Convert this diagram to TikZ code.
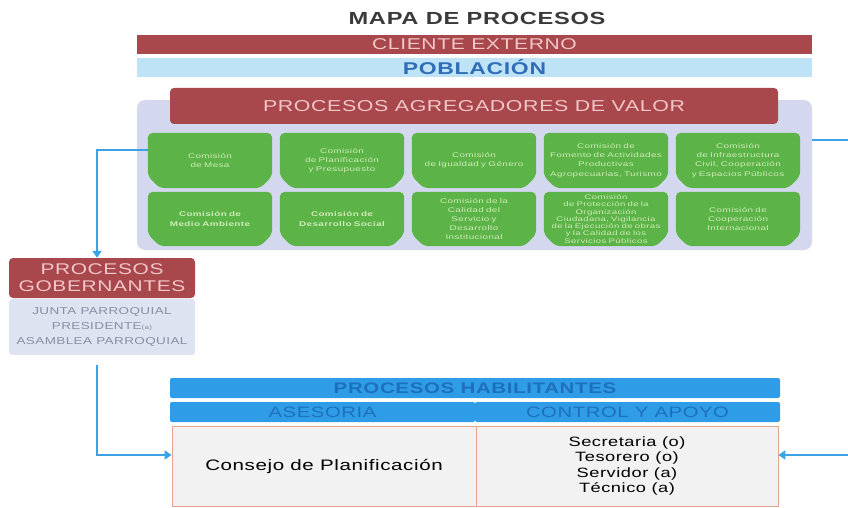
\documentclass[tikz,border=0pt]{standalone}
\usepackage{fontspec}
\setmainfont[FakeStretch=1.35,LetterSpace=4]{Liberation Sans}
\newfontfamily\anchoverde[FakeStretch=1.45,LetterSpace=6]{Liberation Sans}
\usepackage{xcolor}
\usetikzlibrary{arrows.meta, positioning}
\definecolor{rojoproc}{HTML}{A8474C}
\definecolor{rosatexto}{HTML}{F3C6C7}
\definecolor{celeste}{HTML}{BEE3F6}
\definecolor{azulpob}{HTML}{2F6DB8}
\definecolor{lavanda}{HTML}{D4D8EE}
\definecolor{verdecom}{HTML}{5CB347}
\definecolor{verdetexto}{HTML}{CFEDB9}
\definecolor{grisgob}{HTML}{DDE3F0}
\definecolor{textogob}{HTML}{8A8EA2}
\definecolor{azulhab}{HTML}{2E9CE6}
\definecolor{azultexto}{HTML}{1F70BC}
\definecolor{fondotabla}{HTML}{F2F2F2}
\definecolor{bordetabla}{HTML}{E6A493}
\definecolor{flechaazul}{HTML}{3BA2E3}
\definecolor{titulo}{HTML}{3A3A3A}
\pgfdeclarelayer{fondo}
\pgfdeclarelayer{medio}
\pgfsetlayers{fondo,medio,main}

\tikzset{
  franja/.style={minimum width=675pt, minimum height=19pt, inner sep=0pt},
  panel/.style={fill=lavanda, rounded corners=8pt, minimum width=675pt, minimum height=150pt},
  comision/.style={minimum width=124pt, minimum height=55pt, inner sep=1pt, text width=122pt,
    align=center, text=verdetexto, font=\anchoverde\fontsize{6.8}{9.2}\selectfont},
  gobierno/.style={fill=rojoproc, text=rosatexto, rounded corners=4pt, minimum width=186pt,
    minimum height=40pt, inner sep=0pt, align=center, font=\fontsize{15.5}{17}\selectfont},
  gobtexto/.style={fill=grisgob, rounded corners=3pt, minimum width=186pt, minimum height=56pt,
    inner sep=0pt, align=center, text=textogob, font=\fontsize{10}{15}\selectfont},
  habil/.style={fill=azulhab, text=azultexto, rounded corners=2pt, minimum height=20pt, inner sep=0pt,
    font=\fontsize{15}{15}\selectfont},
  celda/.style={fill=fondotabla, draw=bordetabla, line width=0.8pt, minimum width=304pt,
    minimum height=80pt, inner sep=0pt, align=center},
  flecha/.style={draw=flechaazul, line width=1.8pt, -{Triangle[length=7pt,width=9pt]}}
}

\begin{document}
\begin{tikzpicture}[x=1pt, y=-1pt]
\useasboundingbox (0,0) rectangle (848,508);

% cabecera
\node[text=titulo, font=\bfseries\fontsize{17.5}{17.5}\selectfont] (titulo) at (477,18) {MAPA DE PROCESOS};
\node[franja, fill=rojoproc, text=rosatexto, font=\fontsize{15.6}{15.6}\selectfont] (cliente) at (474.5,44.5) {CLIENTE EXTERNO};
\node[franja, fill=celeste, text=azulpob, font=\bfseries\fontsize{17}{17}\selectfont] (poblacion) at (474.5,67.5) {POBLACIÓN};

% procesos agregadores de valor
\begin{pgfonlayer}{fondo}
\node[panel] (panel) at (474.5,175) {};
\end{pgfonlayer}
\node[fill=rojoproc, text=rosatexto, rounded corners=4pt, minimum width=608pt, minimum height=36pt,
  inner sep=0pt, font=\fontsize{15.8}{15.8}\selectfont] (agregadores) at (474,106) {PROCESOS AGREGADORES DE VALOR};

\node[comision] (c1) at (210,160.5) {Comisión\\de Mesa};
\node[comision] (c2) at (342,160.5) {Comisión\\de Planificación\\y Presupuesto};
\node[comision] (c3) at (474,160.5) {Comisión\\de Igualdad y Género};
\node[comision] (c4) at (606,160.5) {Comisión de\\Fomento de Actividades\\Productivas\\Agropecuarias, Turismo};
\node[comision] (c5) at (738,160.5) {Comisión\\de Infraestructura\\Civil, Cooperación\\y Espacios Públicos};
\node[comision, minimum height=54pt] (c6) at (210,219) {\bfseries Comisión de\\Medio Ambiente};
\node[comision, minimum height=54pt] (c7) at (342,219) {\bfseries Comisión de\\Desarrollo Social};
\node[comision, minimum height=54pt, font=\anchoverde\fontsize{6.8}{8.9}\selectfont] (c8) at (474,219) {Comisión de la\\Calidad del\\Servicio y\\Desarrollo\\Institucional};
\node[comision, minimum height=54pt, font=\anchoverde\fontsize{6.6}{7.3}\selectfont] (c9) at (606,219) {Comisión\\de Protección de la\\Organización\\Ciudadana, Vigilancia\\de la Ejecución de obras\\y la Calidad de los\\Servicios Públicos};
\node[comision, minimum height=54pt] (c10) at (738,219) {Comisión de\\Cooperación\\Internacional};

\begin{pgfonlayer}{medio}
\foreach \i in {1,...,10}
  \fill[verdecom, rounded corners=5pt] ([yshift=12pt]c\i.south west) -- (c\i.north west) -- (c\i.north east)
    -- ([yshift=12pt]c\i.south east) -- ([xshift=-12pt]c\i.south east) -- ([xshift=12pt]c\i.south west) -- cycle;
\end{pgfonlayer}

% procesos gobernantes
\node[gobtexto] (gobtxt) at (102,327) {JUNTA PARROQUIAL\\PRESIDENTE{\fontsize{6}{6}\selectfont(a)}\\ASAMBLEA PARROQUIAL};
\node[gobierno] (gob) at (102,278) {PROCESOS\\GOBERNANTES};

% procesos habilitantes
\node[habil, minimum width=610pt, font=\bfseries\fontsize{15.2}{15.2}\selectfont] (habilitantes) at (475,388) {PROCESOS HABILITANTES};
\node[habil, minimum width=305pt] (asesoria) at (322.5,412) {ASESORIA};
\node[habil, minimum width=305pt] (control) at (627.5,412) {CONTROL Y APOYO};
\node[celda, font=\fontsize{15.2}{15.2}\selectfont] (consejo) at (324,466) {Consejo de Planificación};
\node[celda, minimum width=302pt, font=\fontsize{13.5}{15.2}\selectfont] (cargos) at (627,466) {Secretaria (o)\\Tesorero (o)\\Servidor (a)\\Técnico (a)};

% conectores
\coordinate (borde) at (849,140);
\draw[flecha] (c1.west |- 0,150) -| ([xshift=-5pt]gob.north);
\draw[flecha] ([xshift=-5pt,yshift=-10pt]gobtxt.south) |- (consejo.west |- 0,455);
\draw[flecha] (panel.east |- borde) -- (borde) |- (cargos.east |- 0,455);
\end{tikzpicture}
\end{document}
